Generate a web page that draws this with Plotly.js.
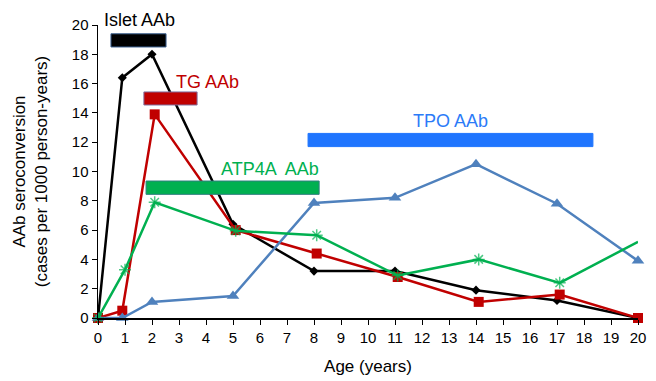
<!DOCTYPE html>
<html>
<head>
<meta charset="utf-8">
<script src="https://cdn.plot.ly/plotly-3.0.1.min.js"></script>
<style>html,body{margin:0;padding:0;background:#fff;}#chart{width:656px;height:381px;}</style>
</head>
<body>
<div id="chart"></div>
<script>
// Series data (age in years, seroconversion per 1000 person-years)
const isletAge = [0, 0.9, 2, 5, 8, 11, 14, 17, 20];
const isletVal = [0, 16.4, 18, 6.4, 3.2, 3.2, 1.9, 1.2, 0];
const tgAge = [0, 0.9, 2.1, 5.1, 8.1, 11.1, 14.1, 17.1, 20];
const tgVal = [0, 0.5, 13.9, 6.0, 4.4, 2.8, 1.1, 1.6, 0];
const atpAge = [0, 1.0, 2.1, 5.1, 8.1, 11.1, 14.1, 17.1, 20];
const atpVal = [0, 3.3, 7.9, 5.95, 5.65, 2.9, 4.0, 2.4, 5.2];
const tpoAge = [0, 0.9, 2, 5, 8, 11, 14, 17, 20];
const tpoVal = [0, 0, 1.1, 1.5, 7.85, 8.2, 10.5, 7.8, 3.9];

// Age-window bars with labels
const windowNames = ["Islet AAb", "TG AAb", "ATP4A  AAb", "TPO AAb"];
const windowStart = [0.48, 1.7, 1.78, 7.78];
const windowEnd = [2.52, 3.67, 8.19, 18.33];
const windowLow = [18.5, 14.54, 8.44, 11.7];
const windowHigh = [19.4, 15.43, 9.35, 12.6];
const labelX = [0.15, 4.04, 6.37, 13.04];
const labelY = [20.35, 16.1, 10.17, 13.47];

const xTicks = [0,1,2,3,4,5,6,7,8,9,10,11,12,13,14,15,16,17,18,19,20];
const yTicks = [0,2,4,6,8,10,12,14,16,18,20];

const barColors = ["#000000", "#C00000", "#00B050", "#1F75FE"];
const barEdges = ["#3A5F8F", "#7F6F9F", "#2F7F7F", "#1F75FE"];
const labelColors = ["#000000", "#C00000", "#00B050", "#2B7BF8"];

const X_RANGE = [0, 20];
const Y_RANGE = [0, 20];

function series(x, y, color, symbol, size, sizes) {
  return {
    x: x, y: y, type: "scatter", mode: "lines+markers",
    line: {color: color, width: 2.5},
    marker: {color: color, symbol: symbol, size: sizes || size, line: {color: color, width: symbol === "asterisk-open" ? 1.5 : 0}},
    cliponaxis: false, showlegend: false, hoverinfo: "skip"
  };
}

const traces = [
  series(isletAge, isletVal, "#000000", "diamond", 7),
  series(tgAge, tgVal, "#C00000", "square", 10),
  series(tpoAge, tpoVal, "#4F81BD", "triangle-up", 11),
  series(atpAge, atpVal, "#00B050", "asterisk-open", 10, [10,10,10,10,10,10,10,10,0])
];

const shapes = windowNames.map((n, i) => ({
  type: "rect", xref: "x", yref: "y", layer: "above",
  x0: windowStart[i], x1: windowEnd[i], y0: windowLow[i], y1: windowHigh[i],
  fillcolor: barColors[i], line: {color: barEdges[i], width: 1}
}));

// labels placed in paper coordinates (converted from data values) so the top one is not hidden
const annotations = windowNames.map((n, i) => ({
  x: (labelX[i] - X_RANGE[0]) / (X_RANGE[1] - X_RANGE[0]),
  y: (labelY[i] - Y_RANGE[0]) / (Y_RANGE[1] - Y_RANGE[0]),
  xref: "paper", yref: "paper",
  text: n, showarrow: false,
  xanchor: i === 0 ? "left" : "center", yanchor: "middle",
  font: {family: "Liberation Sans, Arial, sans-serif", size: 18, color: labelColors[i]}
}));

const layout = {
  width: 656, height: 381,
  margin: {l: 98, r: 18, t: 25, b: 63},
  paper_bgcolor: "#ffffff", plot_bgcolor: "#ffffff",
  font: {family: "Liberation Sans, Arial, sans-serif", size: 15, color: "#000000"},
  xaxis: {
    range: X_RANGE, tickvals: xTicks, ticktext: xTicks.map(String),
    ticks: "outside", ticklen: 5, tickcolor: "#000", tickwidth: 1,
    showline: true, linecolor: "#000", linewidth: 1.5,
    showgrid: false, zeroline: false, fixedrange: true,
    tickfont: {size: 15},
    title: {text: "Age (years)", font: {size: 17}, standoff: 15}
  },
  yaxis: {
    range: Y_RANGE, tickvals: yTicks, ticktext: yTicks.map(String),
    ticks: "outside", ticklen: 5, tickcolor: "#000", tickwidth: 1,
    showline: true, linecolor: "#000", linewidth: 1.5,
    showgrid: false, zeroline: false, fixedrange: true,
    tickfont: {size: 15},
    title: {text: "AAb seroconversion<br>(cases per 1000 person-years)", font: {size: 17}, standoff: 20}
  },
  shapes: shapes,
  annotations: annotations
};

Plotly.newPlot("chart", traces, layout, {staticPlot: true, displayModeBar: false});
</script>
</body>
</html>
